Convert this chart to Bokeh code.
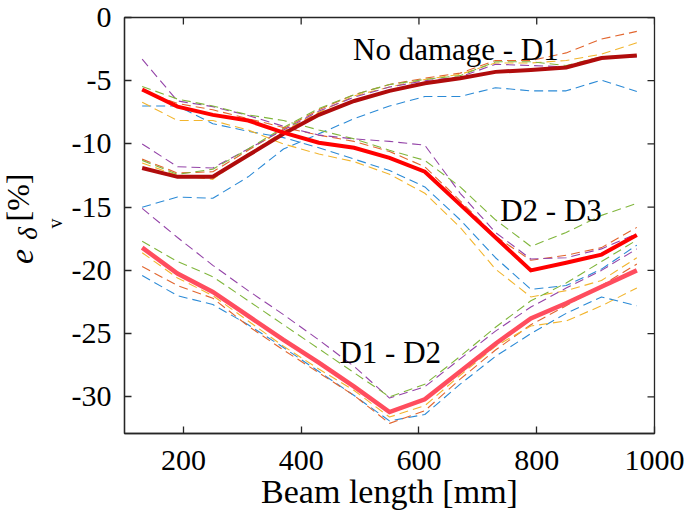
import math
from bokeh.plotting import figure
from bokeh.layouts import row
from bokeh.models import Range1d, FixedTicker, Label
from bokeh.embed import file_html
from bokeh.resources import INLINE

# ---------------- data ----------------
beam_length = [130, 190, 250, 310, 370, 430, 490, 550, 610, 670, 730, 790, 850, 910, 970]

x_ticks = [200, 400, 600, 800, 1000]
y_ticks = [0, -5, -10, -15, -20, -25, -30]

# No damage - D1
nd_mean = [-11.9, -12.6, -12.6, -10.9, -9.2, -7.7, -6.6, -5.8, -5.2, -4.8, -4.3, -4.15, -3.95, -3.2, -3.0]
nd_blue = [-15.0, -14.2, -14.3, -12.6, -10.4, -9.2, -8.0, -7.0, -6.25, -6.25, -5.55, -5.8, -5.8, -4.95, -5.85]
nd_orange = [-11.2, -12.3, -12.2, -10.5, -8.8, -7.3, -6.1, -5.3, -4.8, -4.4, -3.4, -3.4, -2.8, -1.7, -1.1]
nd_yellow = [-11.5, -12.5, -12.8, -10.8, -9.0, -7.5, -6.2, -5.5, -4.9, -4.5, -3.6, -3.6, -3.4, -2.9, -2.0]
nd_purple = [-10.0, -11.8, -11.9, -10.4, -8.9, -7.4, -6.3, -5.5, -5.0, -4.7, -3.7, -3.8, -3.9, -3.2, -3.1]
nd_green = [-11.3, -12.4, -12.0, -10.4, -8.7, -7.2, -6.1, -5.3, -4.9, -4.6, -3.5, -3.5, -3.8, -3.1, -3.0]

# D2 - D3
d23_mean = [-5.7, -7.05, -7.7, -8.15, -9.1, -9.9, -10.3, -11.1, -12.2, -14.8, -17.4, -20.0, -19.4, -18.75, -17.2]
d23_blue = [-7.0, -7.0, -8.4, -9.0, -9.5, -10.3, -11.2, -12.1, -13.4, -16.0, -19.0, -21.5, -21.2, -19.9, -18.0]
d23_orange = [-5.8, -6.8, -7.3, -8.0, -8.7, -9.3, -9.8, -10.6, -11.8, -14.5, -17.3, -19.2, -18.8, -18.2, -16.6]
d23_yellow = [-6.7, -8.15, -8.15, -8.9, -10.0, -10.8, -11.4, -12.4, -13.9, -16.6, -19.9, -22.1, -21.6, -20.8, -19.0]
d23_purple = [-3.3, -6.6, -7.05, -7.75, -8.6, -9.3, -9.6, -9.8, -10.1, -13.9, -17.0, -19.1, -19.0, -18.3, -17.1]
d23_green = [-5.45, -6.45, -7.0, -7.7, -8.15, -8.9, -9.6, -10.5, -11.3, -13.4, -16.0, -18.1, -17.0, -15.65, -14.7]

# D1 - D2
d12_mean = [-18.2, -20.25, -21.7, -23.6, -25.5, -27.3, -29.2, -31.2, -30.2, -28.0, -25.8, -23.8, -22.6, -21.3, -20.0]
d12_blue = [-20.4, -22.0, -22.7, -24.3, -26.1, -28.0, -29.9, -31.9, -31.4, -29.0, -26.8, -25.0, -23.4, -22.1, -22.8]
d12_orange = [-19.7, -21.2, -22.2, -24.4, -26.3, -28.1, -29.9, -32.1, -31.1, -28.6, -26.3, -24.3, -22.8, -21.2, -19.5]
d12_yellow = [-18.6, -20.6, -22.0, -24.0, -26.0, -27.8, -29.5, -31.6, -30.7, -28.3, -26.0, -24.4, -24.0, -22.8, -21.4]
d12_purple = [-15.1, -17.4, -19.6, -21.6, -23.5, -25.5, -27.6, -30.1, -29.2, -27.0, -24.8, -22.9, -21.4, -20.0, -18.3]
d12_green = [-17.7, -19.3, -20.5, -22.4, -24.3, -26.2, -28.1, -30.0, -29.0, -26.8, -24.5, -22.4, -21.0, -19.3, -17.6]

group_labels = ["No damage - D1", "D2 - D3", "D1 - D2"]
label_x = [488, 738, 465]
label_y = [-2.55, -15.3, -26.5]

# ---------------- styles ----------------
FONT = "Liberation Serif"
AX = "#262626"
C_BLUE, C_ORANGE, C_YELLOW, C_PURPLE, C_GREEN = "#2b8ad6", "#e2662f", "#f2b52e", "#9444a8", "#80b63c"
dash_colors = [C_BLUE, C_ORANGE, C_YELLOW, C_PURPLE, C_GREEN]

X0, X1, Y0, Y1 = 100, 1000, -32.9, 0
W, H = 684, 522
TOP, BOTTOM = 17, 89
LW = 68  # width of the strip holding the y-axis title

p = figure(width=W - LW, height=H, title=None,
           x_range=Range1d(X0, X1), y_range=Range1d(Y0, Y1),
           output_backend="svg", toolbar_location=None,
           min_border_left=123 - LW, min_border_right=30,
           min_border_top=TOP, min_border_bottom=BOTTOM)
p.background_fill_color = "white"
p.border_fill_color = "white"
p.outline_line_color = AX
p.outline_line_width = 1.3
p.xgrid.visible = False
p.ygrid.visible = False

groups = [
    ([nd_blue, nd_orange, nd_yellow, nd_purple, nd_green], nd_mean, "#b00c0c", 4),
    ([d23_blue, d23_orange, d23_yellow, d23_purple, d23_green], d23_mean, "#ff0000", 4),
    ([d12_blue, d12_orange, d12_yellow, d12_purple, d12_green], d12_mean, "#ff4d5e", 4.5),
]
for dashed, _, _, _ in groups:
    for ys, c in zip(dashed, dash_colors):
        p.line(beam_length, ys, line_color=c, line_width=1.1, line_dash="9 5")
for _, mean, col, w in groups:
    p.line(beam_length, mean, line_color=col, line_width=w, line_join="miter")

# inward ticks on the top and right edges of the box
p.ray(x=x_ticks, y=[Y1] * len(x_ticks), length=7, length_units="screen",
      angle=-math.pi / 2, line_color=AX, line_width=1.3)
p.ray(x=[X1] * len(y_ticks), y=y_ticks, length=7, length_units="screen",
      angle=math.pi, line_color=AX, line_width=1.3)

# axes
for ax in (p.xaxis[0], p.yaxis[0]):
    ax.axis_line_color = AX
    ax.axis_line_width = 1.3
    ax.major_tick_line_color = AX
    ax.major_tick_line_width = 1.3
    ax.major_tick_in = 7
    ax.major_tick_out = 0
    ax.minor_tick_line_color = None
    ax.major_label_text_font = FONT
    ax.major_label_text_color = "black"
    ax.major_label_text_font_size = "30px"

p.xaxis.ticker = FixedTicker(ticks=x_ticks)
p.yaxis.ticker = FixedTicker(ticks=y_ticks)
p.xaxis.major_label_overrides = {t: str(t) for t in x_ticks}
p.yaxis.major_label_overrides = {t: str(t) for t in y_ticks}
p.xaxis.major_label_standoff = 17
p.yaxis.major_label_standoff = 13
p.xaxis.axis_label = "Beam length [mm]"
p.xaxis.axis_label_text_font = FONT
p.xaxis.axis_label_text_font_size = "34px"
p.xaxis.axis_label_text_font_style = "normal"
p.xaxis.axis_label_text_color = "black"
p.xaxis.axis_label_standoff = 0

# group labels
for t, lx, ly in zip(group_labels, label_x, label_y):
    p.add_layout(Label(x=lx, y=ly, text=t, text_font=FONT, text_font_size="31px",
                       text_color="black", text_baseline="alphabetic", text_align="left"))

# ---- strip on the left holding the rotated y-axis title  e_{delta_v} [%] ----
# its frame is aligned with the main frame (page y 17..433), so data y == page y
q = figure(width=LW, height=H, title=None,
           x_range=Range1d(0, LW), y_range=Range1d(H - BOTTOM, TOP),
           output_backend="svg", toolbar_location=None,
           x_axis_type=None, y_axis_type=None,
           min_border_left=0, min_border_right=0,
           min_border_top=TOP, min_border_bottom=BOTTOM)
q.outline_line_color = None
q.xgrid.visible = False
q.ygrid.visible = False
q.background_fill_color = "white"
q.border_fill_color = "white"

# (text, centre x, centre y, size, style) -- page pixels
ylab = [("e", 21, 256, "34px", "italic"),
        ("\u03b4", 27, 233, "27px", "italic"),
        ("v", 54, 223, "20px", "normal"),
        ("[%]", 17, 197, "32px", "normal")]
for t, lx, ly, fs, st in ylab:
    q.add_layout(Label(x=lx, y=ly, text=t,
                       angle=math.pi / 2, text_font=FONT, text_font_size=fs,
                       text_font_style=st, text_color="black",
                       text_baseline="middle", text_align="center"))

layout = row(q, p, spacing=0)
open("out.html", "w").write(file_html(layout, INLINE))
